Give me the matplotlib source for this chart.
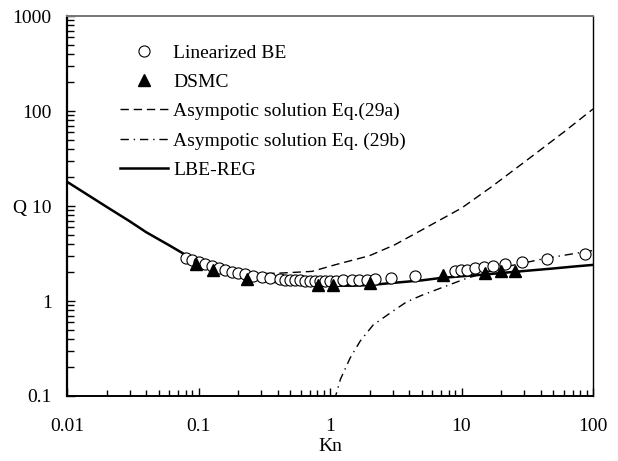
import matplotlib
matplotlib.use("Agg")
import matplotlib.pyplot as plt
from matplotlib.ticker import LogLocator, NullFormatter, FixedLocator, FixedFormatter

plt.rcParams['font.family'] = ['Liberation Serif', 'DejaVu Serif']

# Linearized BE (circles)
lbe_kn = [0.081, 0.089, 0.1, 0.112, 0.126, 0.142, 0.159, 0.179, 0.201, 0.226, 0.261,
          0.302, 0.35, 0.417, 0.455, 0.497, 0.542, 0.591, 0.645, 0.705, 0.769, 0.84,
          0.916, 1.0, 1.12, 1.26, 1.46, 1.67, 1.9, 2.2, 2.91, 4.43, 8.9, 9.9, 11,
          12.7, 14.8, 17.5, 21.4, 28.7, 44.5, 87]
lbe_q = [2.86, 2.70, 2.6, 2.43, 2.33, 2.21, 2.12, 2.04, 1.96, 1.91, 1.83, 1.80, 1.75,
         1.70, 1.68, 1.66, 1.65, 1.65, 1.64, 1.64, 1.64, 1.64, 1.64, 1.64, 1.64, 1.65,
         1.65, 1.66, 1.67, 1.69, 1.73, 1.85, 2.09, 2.10, 2.12, 2.21, 2.26, 2.35, 2.43,
         2.59, 2.77, 3.1]

# DSMC (triangles)
dsmc_kn = [0.095, 0.13, 0.235, 0.81, 1.05, 2.0, 7.2, 15, 19.8, 25.3]
dsmc_q = [2.48, 2.1, 1.7, 1.47, 1.47, 1.55, 1.87, 1.96, 2.05, 2.07]

# Asymptotic solution Eq.(29a)
a_kn = [0.26, 0.4, 0.73, 1.1, 2.0, 3.1, 5.0, 10, 17, 34, 60, 100]
a_q = [1.94, 1.96, 2.05, 2.41, 3.0, 3.9, 5.6, 9.5, 16, 33, 60, 105]

# Asymptotic solution Eq.(29b)
b_kn = [1.08, 1.2, 1.42, 1.7, 2.13, 3.0, 3.83, 5.0, 6.87, 10.9, 22, 44, 100]
b_q = [0.09, 0.15, 0.25, 0.38, 0.56, 0.78, 0.98, 1.15, 1.36, 1.73, 2.3, 2.82, 3.4]

# LBE-REG
reg_kn = [0.01, 0.02, 0.03, 0.04, 0.06, 0.08, 0.1, 0.15, 0.2, 0.3, 0.5, 0.7, 1, 1.5, 2,
          3, 5, 7, 10, 15, 20, 30, 50, 70, 100]
reg_q = [18, 9.8, 6.9, 5.3, 3.85, 3.05, 2.65, 2.1, 1.85, 1.65, 1.52, 1.46, 1.45, 1.45, 1.47,
         1.55, 1.65, 1.75, 1.82, 1.9, 1.97, 2.07, 2.2, 2.3, 2.4]

x_ticks = [0.01, 0.1, 1, 10, 100]
x_labels = ["0.01", "0.1", "1", "10", "100"]
y_ticks = [0.1, 1, 10, 100, 1000]
y_labels = ["0.1", "1", "Q 10", "100", "1000"]

fig = plt.figure(figsize=(6.18, 4.61), dpi=100)
ax = fig.add_axes([67/618, 1 - 396/461, (593-67)/618, (396-16)/461])

ax.plot(lbe_kn, lbe_q, linestyle='none', marker='o', markersize=8, markerfacecolor='white',
        markeredgecolor='black', markeredgewidth=0.8, label='Linearized BE', zorder=3)
ax.plot(dsmc_kn, dsmc_q, linestyle='none', marker='^', markersize=8, color='black',
        label='DSMC', zorder=4)
ax.plot(a_kn, a_q, color='black', linewidth=1.0, dashes=(6, 3.5),
        label='Asympotic solution Eq.(29a)', zorder=2)
ax.plot(b_kn, b_q, color='black', linewidth=1.0, dashes=(6, 3.5, 1, 3.5),
        label='Asympotic solution Eq. (29b)', zorder=2)
ax.plot(reg_kn, reg_q, color='black', linewidth=1.8, label='LBE-REG', zorder=2)

ax.set_xscale('log')
ax.set_yscale('log')
ax.set_xlim(0.01, 100)
ax.set_ylim(0.1, 1000)

ax.xaxis.set_major_locator(FixedLocator(x_ticks))
ax.xaxis.set_major_formatter(FixedFormatter(x_labels))
ax.yaxis.set_major_locator(FixedLocator(y_ticks))
ax.yaxis.set_major_formatter(FixedFormatter(y_labels))
ax.xaxis.set_minor_locator(LogLocator(base=10, subs=range(2, 10)))
ax.yaxis.set_minor_locator(LogLocator(base=10, subs=range(2, 10)))
ax.xaxis.set_minor_formatter(NullFormatter())
ax.yaxis.set_minor_formatter(NullFormatter())

ax.tick_params(which='both', direction='in', top=False, right=False, labelsize=14,
               color='black', width=1.0)
ax.tick_params(axis='y', which='major', length=6, pad=11)
ax.tick_params(axis='y', which='minor', length=5)
ax.tick_params(axis='x', which='major', length=6, pad=16)
ax.tick_params(axis='x', which='minor', length=4)

ax.spines['left'].set_linewidth(1.6)
ax.spines['bottom'].set_linewidth(1.4)
ax.spines['top'].set_linewidth(1.4)
ax.spines['top'].set_color('#777777')
ax.spines['right'].set_linewidth(1.0)

ax.set_xlabel('Kn', fontsize=14, labelpad=2)

ax.legend(loc='upper left', bbox_to_anchor=((120-67)/526, 1 - (44-16)/380), frameon=False,
          fontsize=14, handlelength=2.45, handletextpad=0.3, labelspacing=0.6,
          borderpad=0, borderaxespad=0)

fig.savefig('out.png', dpi=100)
